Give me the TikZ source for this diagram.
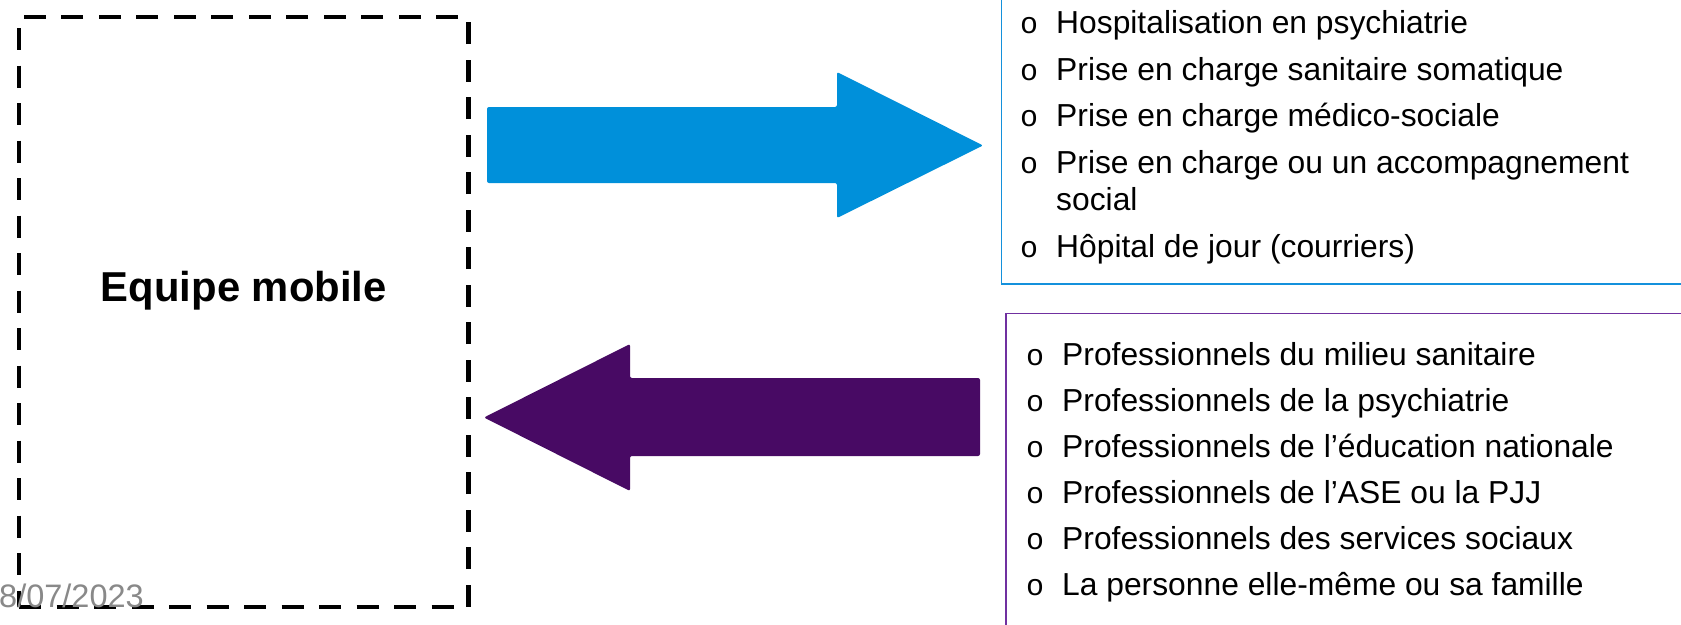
\documentclass[tikz,border=0pt]{standalone}
\usepackage{fontspec}
\setmainfont{Liberation Sans}
\newfontfamily\bulfont{Liberation Mono}
\definecolor{arrowblue}{RGB}{0,144,218}
\definecolor{arrowpurple}{RGB}{72,10,100}
\definecolor{frameblue}{RGB}{20,145,220}
\definecolor{framepurple}{RGB}{112,48,160}
\definecolor{dategray}{RGB}{137,137,137}
\tikzset{
  dashbox/.style={draw=black, line width=4.5pt, dash pattern=on 22pt off 15.5pt, inner sep=0pt},
  titletext/.style={inner sep=0pt, font=\fontsize{41.8}{48}\selectfont\bfseries},
  listframe/.style={line width=1.8pt, inner sep=0pt, anchor=south west},
  itemtext/.style={anchor=base west, inner sep=0pt, font=\fontsize{31.8}{36}\selectfont},
  bullet/.style={anchor=base west, inner sep=0pt, font=\bulfont\fontsize{30}{36}\selectfont},
  datetext/.style={anchor=base west, inner sep=0pt, text=dategray, font=\fontsize{32.5}{36}\selectfont},
  blockarrow/.style={rounded corners=2pt}
}
\begin{document}
\begin{tikzpicture}[x=1pt,y=-1pt]
\useasboundingbox (0,0) rectangle (1681,624);
\clip (0,0) rectangle (1681,624);
\fill[white] (0,0) rectangle (1681,624);

% dashed box
\node[dashbox, minimum width=449.5pt, minimum height=590pt] (box) at (243.75,312) {};
\node[titletext] (title) at ([yshift=21pt]box.center) {Equipe mobile};

% arrows
\fill[arrowblue, blockarrow] (487,107) -- (837,107) -- (837,72) -- (983,145.5) -- (837,218) -- (837,183) -- (487,183) -- cycle;
\fill[arrowpurple, blockarrow] (980,378) -- (630,378) -- (630,344) -- (484,417.5) -- (630,491) -- (630,456) -- (980,456) -- cycle;

% frames
\node[listframe, draw=frameblue, minimum width=720pt, minimum height=320pt] (fb) at (1000.5,285) {};
\node[listframe, draw=framepurple, anchor=north west, minimum width=720pt, minimum height=340pt] (fp) at (1005,312.5) {};

% blue list
\node[bullet] (bb1) at (1020,33.5) {o};
\node[itemtext] (b1) at (1056,33.5) {Hospitalisation en psychiatrie};
\node[bullet] (bb2) at (1020,80) {o};
\node[itemtext] (b2) at (1056,80) {Prise en charge sanitaire somatique};
\node[bullet] (bb3) at (1020,126.5) {o};
\node[itemtext] (b3) at (1056,126.5) {Prise en charge médico-sociale};
\node[bullet] (bb4) at (1020,173) {o};
\node[itemtext] (b4) at (1056,173) {Prise en charge ou un accompagnement};
\node[itemtext] (b4b) at (1056,210) {social};
\node[bullet] (bb5) at (1020,257.5) {o};
\node[itemtext] (b5) at (1056,257.5) {Hôpital de jour (courriers)};

% purple list
\node[bullet] (pb1) at (1026,365) {o};
\node[itemtext] (p1) at (1062,365) {Professionnels du milieu sanitaire};
\node[bullet] (pb2) at (1026,411) {o};
\node[itemtext] (p2) at (1062,411) {Professionnels de la psychiatrie};
\node[bullet] (pb3) at (1026,457) {o};
\node[itemtext] (p3) at (1062,457) {Professionnels de l’éducation nationale};
\node[bullet] (pb4) at (1026,503) {o};
\node[itemtext] (p4) at (1062,503) {Professionnels de l’ASE ou la PJJ};
\node[bullet] (pb5) at (1026,549) {o};
\node[itemtext] (p5) at (1062,549) {Professionnels des services sociaux};
\node[bullet] (pb6) at (1026,595) {o};
\node[itemtext] (p6) at (1062,595) {La personne elle-même ou sa famille};

% date
\node[datetext] (date) at (-1,607) {8/07/2023};
\end{tikzpicture}
\end{document}
